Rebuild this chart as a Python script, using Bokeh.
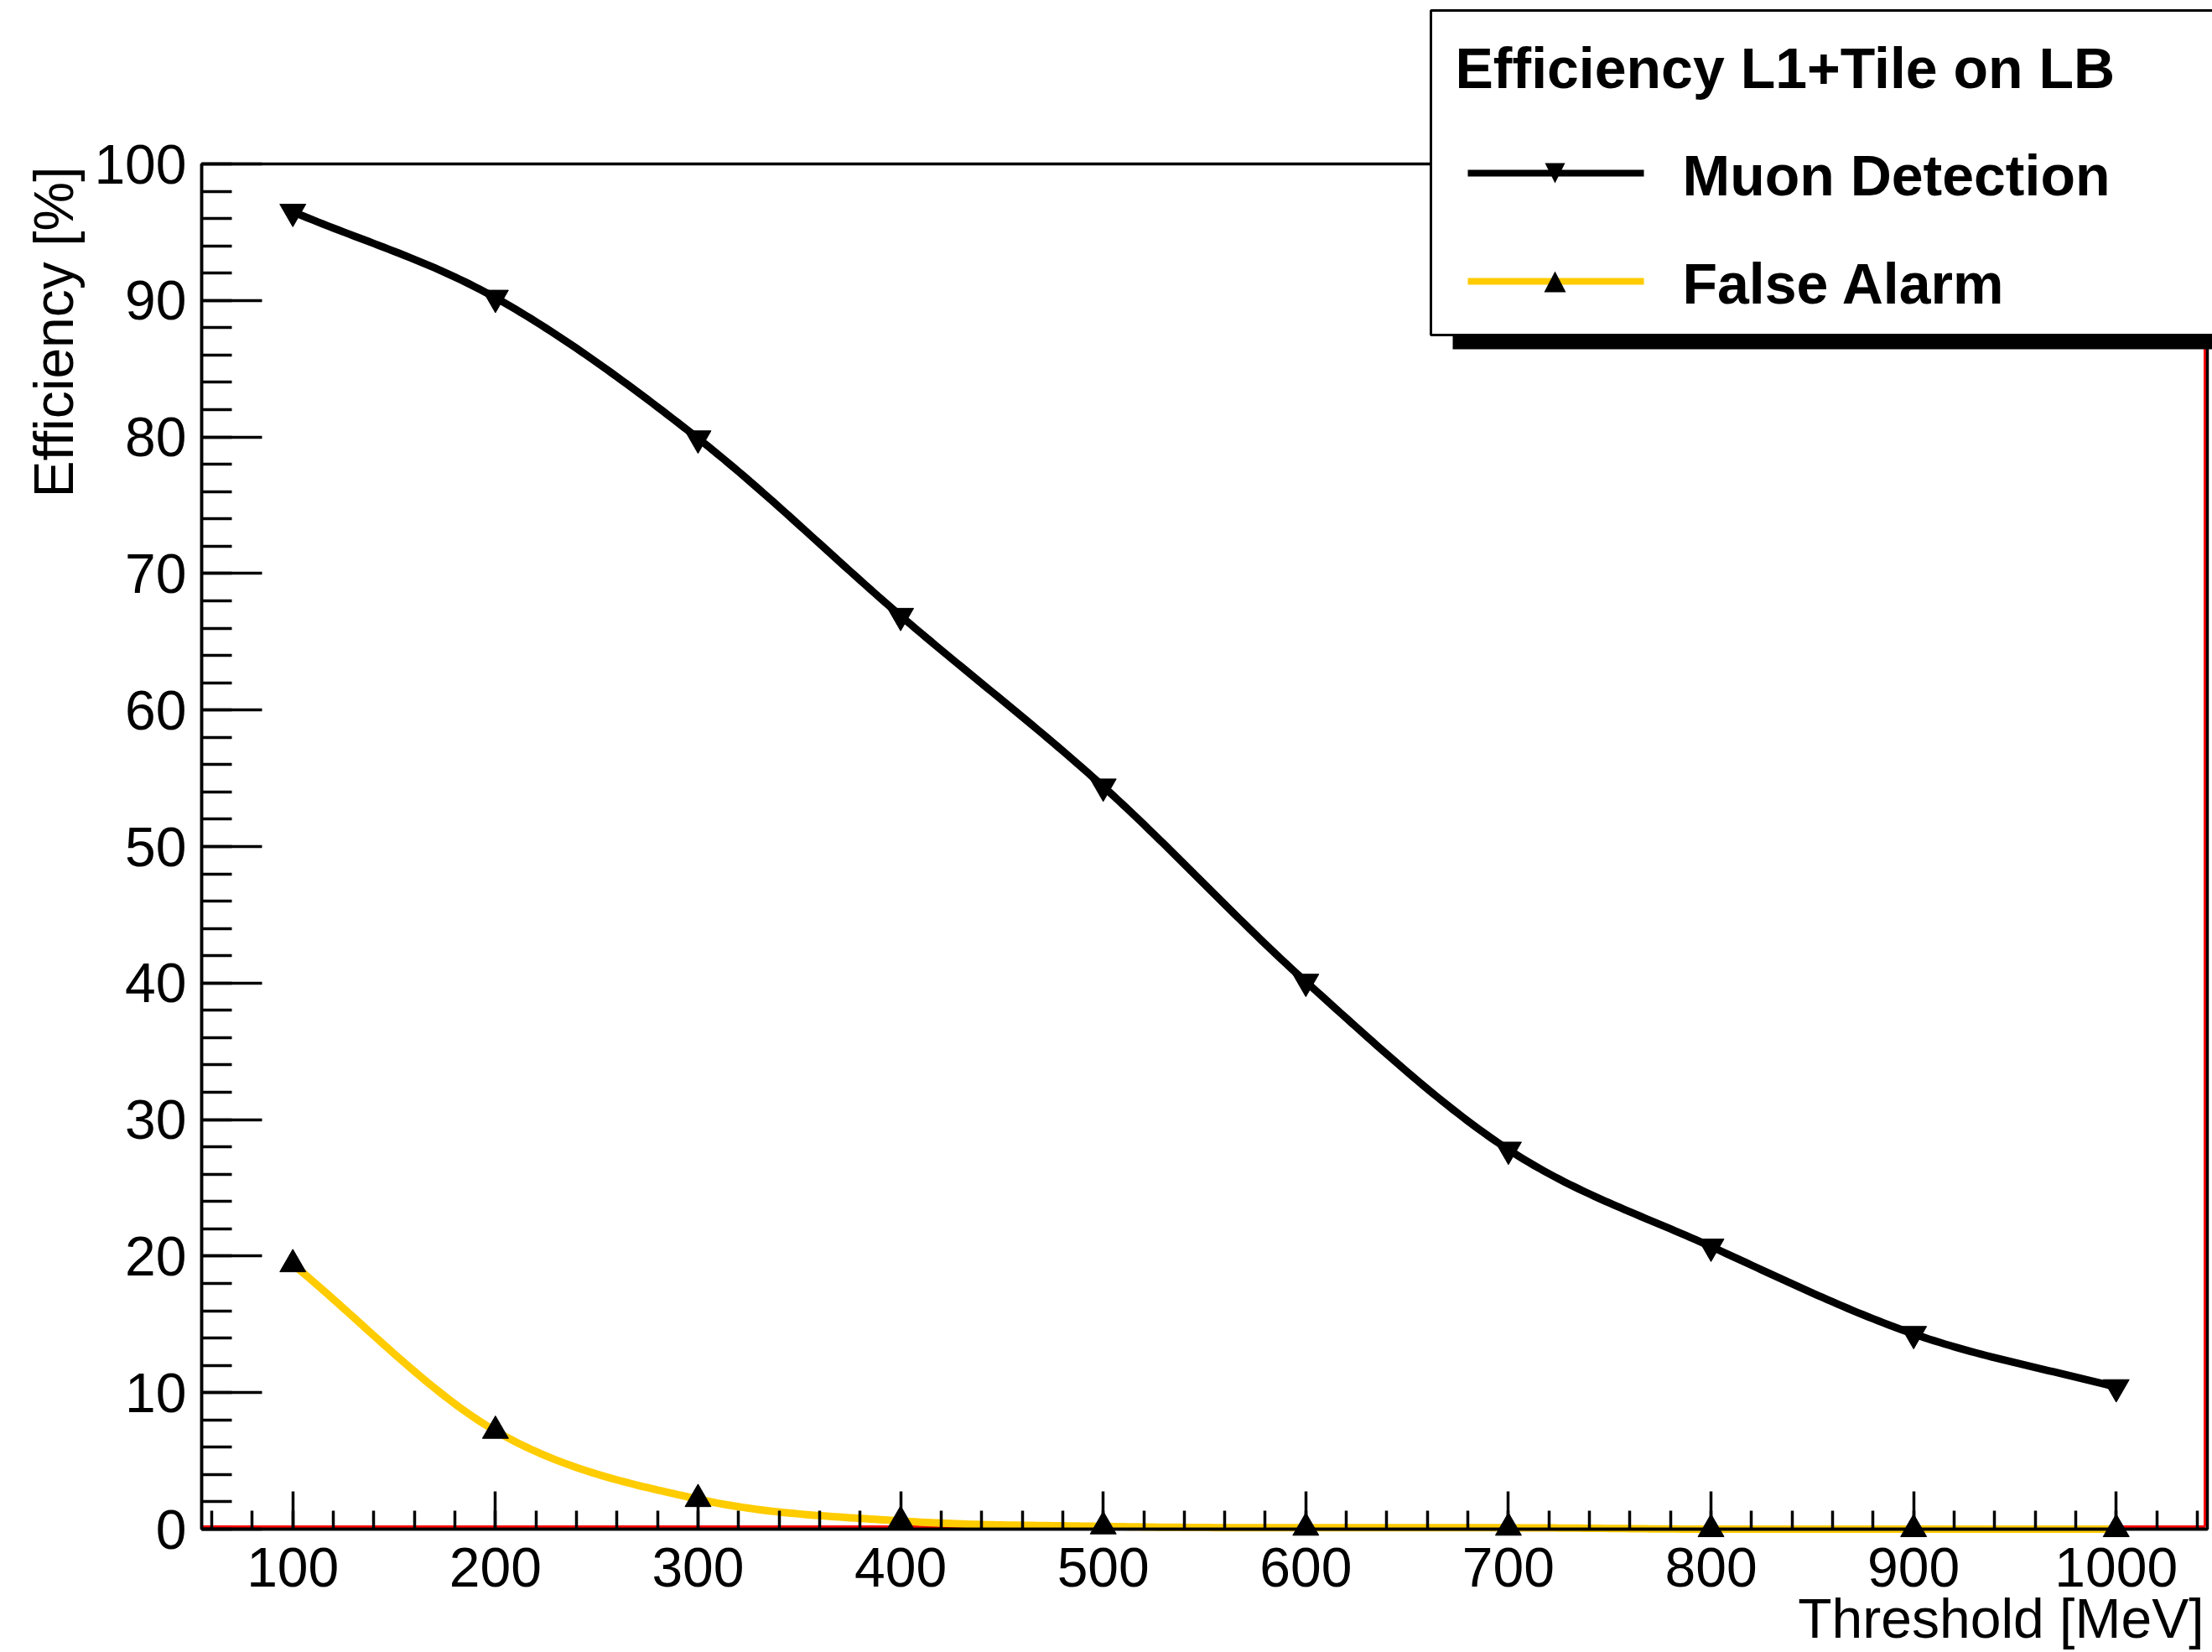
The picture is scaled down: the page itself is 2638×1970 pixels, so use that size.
import numpy as np
from bokeh.plotting import figure
from bokeh.models import (Range1d, SingleIntervalTicker, BoxAnnotation, Label,
                          PolyAnnotation, ColumnDataSource)
from bokeh.embed import file_html
from bokeh.resources import INLINE

# ---------------- data ----------------
threshold_mev = [100, 200, 300, 400, 500, 600, 700, 800, 900, 1000]
muon_detection = [96.5, 90.2, 79.9, 66.9, 54.4, 40.1, 27.8, 20.7, 14.3, 10.4]
false_alarm = [19.4, 7.2, 2.2, 0.6, 0.2, 0.1, 0.1, 0.0, 0.0, 0.0]
series_names = ["Muon Detection", "False Alarm"]
legend_title = "Efficiency L1+Tile on LB"
x_title = "Threshold [MeV]"
y_title = "Efficiency [%]"
x_lim = (55, 1045)   # axis range (ROOT pad frame)
y_lim = (0, 100)

# ---------------- layout (canvas pixels, origin top-left) ----------------
W, H = 2638, 1970
AX_L, AX_R, AX_T, AX_B = 240, 2632, 195, 1823   # where the axis frame sits on the canvas
px_x = (AX_R - AX_L) / (x_lim[1] - x_lim[0])
px_y = (AX_B - AX_T) / (y_lim[1] - y_lim[0])
x_view = (x_lim[0] - AX_L / px_x, x_lim[1] + (W - AX_R) / px_x)
y_view = (y_lim[0] - (H - AX_B) / px_y, y_lim[1] + AX_T / px_y)
BASE_FIX = 24  # measured offset between requested and rendered alphabetic baseline


def sx(px):
    return px


def sy(py):
    return H - py


FONT = "Liberation Sans"
FS = "66px"
BLACK = "#000000"
YELLOW = "#FFCC00"
RED = "#FF0000"
LW = 9
TW = 3.5


def smooth_path(x, y, n=40):
    """Monotone cubic (Fritsch-Carlson) curve through the data points, like ROOT's 'C' option."""
    x = np.asarray(x, float)
    y = np.asarray(y, float)
    h = np.diff(x)
    d = np.diff(y) / h
    m = np.zeros_like(y)
    m[0], m[-1] = d[0], d[-1]
    for k in range(1, len(y) - 1):
        m[k] = 0.0 if d[k - 1] * d[k] <= 0 else 0.5 * (d[k - 1] + d[k])
    for k in range(len(d)):
        if d[k] == 0:
            m[k] = m[k + 1] = 0.0
        else:
            a, b = m[k] / d[k], m[k + 1] / d[k]
            s = a * a + b * b
            if s > 9:
                t = 3.0 / np.sqrt(s)
                m[k], m[k + 1] = t * a * d[k], t * b * d[k]
    xs, ys = [], []
    for k in range(len(h)):
        t = np.linspace(0, 1, n, endpoint=(k == len(h) - 1))
        h00 = 2 * t**3 - 3 * t**2 + 1
        h10 = t**3 - 2 * t**2 + t
        h01 = -2 * t**3 + 3 * t**2
        h11 = t**3 - t**2
        xs.append(x[k] + t * h[k])
        ys.append(h00 * y[k] + h10 * h[k] * m[k] + h01 * y[k + 1] + h11 * h[k] * m[k + 1])
    return np.concatenate(xs), np.concatenate(ys)


p = figure(width=W, height=H, output_backend="svg", toolbar_location=None,
           x_range=Range1d(*x_view), y_range=Range1d(*y_view),
           min_border_left=0, min_border_right=0, min_border_top=0, min_border_bottom=0)
p.outline_line_color = None
p.background_fill_color = "white"
p.border_fill_color = "white"
p.xgrid.visible = False
p.ygrid.visible = False

# axes (drawn at the frame edges, inside the canvas)
xa = p.xaxis[0]
xa.ticker = SingleIntervalTicker(interval=100, num_minor_ticks=5)
xa.fixed_location = y_lim[0]
xa.bounds = x_lim
xa.axis_line_width = TW
xa.major_tick_line_width = TW
xa.minor_tick_line_width = TW
xa.major_tick_in, xa.major_tick_out = 45, 0
xa.minor_tick_in, xa.minor_tick_out = 22, 0
xa.major_label_text_font = FONT
xa.major_label_text_font_size = FS
xa.major_label_text_color = BLACK
xa.major_label_standoff = 22

ya = p.yaxis[0]
ya.ticker = SingleIntervalTicker(interval=10, num_minor_ticks=5)
ya.fixed_location = x_lim[0]
ya.bounds = y_lim
ya.axis_line_width = TW
ya.major_tick_line_width = TW
ya.minor_tick_line_width = TW
ya.major_tick_in, ya.major_tick_out = 72, 0
ya.minor_tick_in, ya.minor_tick_out = 36, 0
ya.major_label_text_font = FONT
ya.major_label_text_font_size = FS
ya.major_label_text_color = BLACK
ya.major_label_standoff = 18

# red frame histogram (bottom and right edge)
red_y = y_lim[0] + 3 / px_y
red_x = x_lim[1] - 3 / px_x
p.line(x=[x_lim[0], red_x, red_x], y=[red_y, red_y, y_lim[1]],
       line_color=RED, line_width=3)

src = ColumnDataSource(dict(x=threshold_mev, muon=muon_detection, fa=false_alarm))

mx, my = smooth_path(threshold_mev, muon_detection)
p.line(mx, my, line_color=BLACK, line_width=LW, line_join="round")
p.scatter("x", "muon", source=src, marker="inverted_triangle", size=31,
          fill_color=BLACK, line_color=BLACK)

fx, fy = smooth_path(threshold_mev, false_alarm)
p.line(fx, fy, line_color=YELLOW, line_width=LW, line_join="round")
p.scatter("x", "fa", source=src, marker="triangle", size=31,
          fill_color=BLACK, line_color=BLACK)

# frame (top / right)
p.add_layout(BoxAnnotation(left=x_lim[0], right=x_lim[1], bottom=y_lim[0], top=y_lim[1],
                           fill_color=None, line_color=BLACK, line_alpha=1, line_width=TW))

# axis titles (ROOT style: right aligned)
p.add_layout(Label(x=sx(2628), y=sy(1953 - BASE_FIX), x_units="screen", y_units="screen",
                   text=x_title, text_font=FONT, text_font_size=FS, text_color=BLACK,
                   text_align="right", text_baseline="alphabetic"))
p.add_layout(Label(x=sx(87 - BASE_FIX), y=sy(198), x_units="screen", y_units="screen",
                   text=y_title, angle=np.pi / 2, text_font=FONT, text_font_size=FS,
                   text_color=BLACK, text_align="right", text_baseline="alphabetic"))


def sbox(l, r, t, b, **kw):
    return BoxAnnotation(left=sx(l), right=sx(r), top=sy(t), bottom=sy(b),
                         left_units="screen", right_units="screen",
                         top_units="screen", bottom_units="screen", **kw)


# legend with shadow
p.add_layout(sbox(1732, 2800, 28, 416, fill_color=BLACK, fill_alpha=1, line_color=None))
p.add_layout(sbox(1706, 2800, 12, 399, fill_color="white", fill_alpha=1,
                  line_color=BLACK, line_alpha=1, line_width=3))
p.add_layout(Label(x=sx(1735), y=sy(104 - BASE_FIX), x_units="screen", y_units="screen",
                   text=legend_title, text_font=FONT, text_font_size="68px",
                   text_font_style="bold", text_color=BLACK,
                   text_align="left", text_baseline="alphabetic"))

entries = [(series_names[0], BLACK, 206, "down"), (series_names[1], YELLOW, 335, "up")]
for name, col, cy, tri in entries:
    p.add_layout(sbox(1750, 1960, cy - 4, cy + 4, fill_color=col, fill_alpha=1, line_color=None))
    if tri == "down":
        xs_, ys_ = [1842, 1866, 1854], [cy - 12, cy - 12, cy + 12]
    else:
        xs_, ys_ = [1841, 1867, 1854], [cy + 13, cy + 13, cy - 12]
    p.add_layout(PolyAnnotation(xs=[sx(v) for v in xs_], ys=[sy(v) for v in ys_],
                                xs_units="screen", ys_units="screen",
                                fill_color=BLACK, fill_alpha=1, line_color=None))
    p.add_layout(Label(x=sx(2006), y=sy(cy + 26 - BASE_FIX), x_units="screen", y_units="screen",
                       text=name, text_font=FONT, text_font_size="68px",
                       text_font_style="bold", text_color=BLACK,
                       text_align="left", text_baseline="alphabetic"))

open("out.html", "w").write(file_html(p, INLINE))
